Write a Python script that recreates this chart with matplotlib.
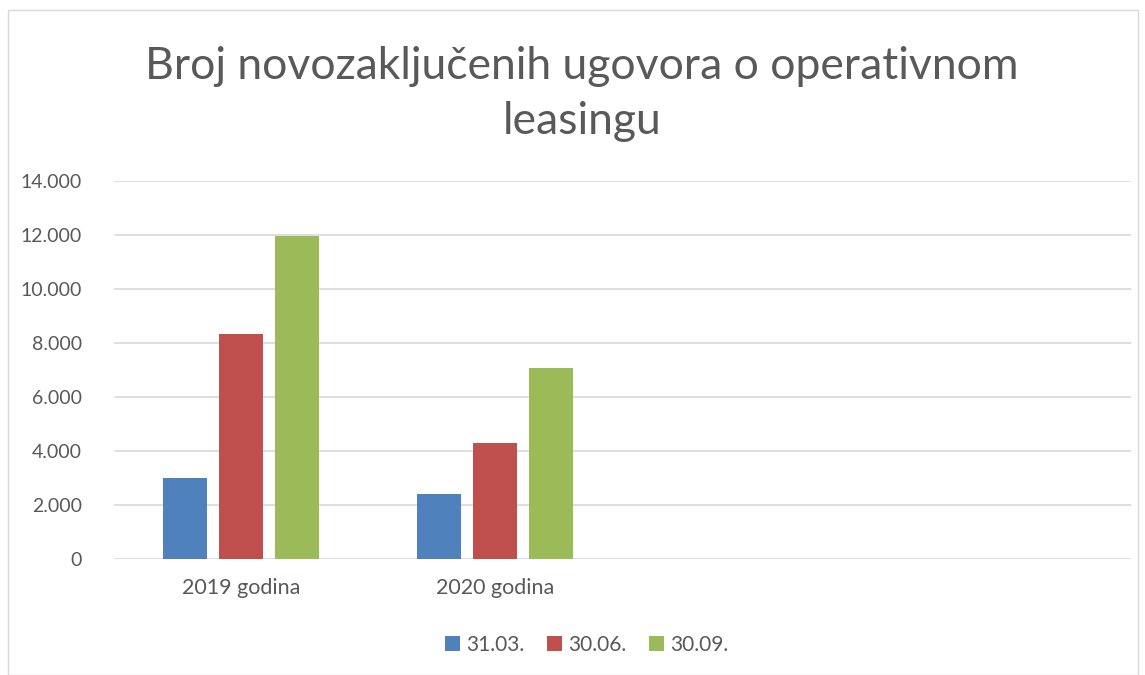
import numpy as np
import matplotlib.pyplot as plt
from matplotlib.patches import Rectangle

plt.rcParams['font.family'] = ['Lato', 'DejaVu Sans']

categories = ['2019 godina', '2020 godina', '', '']
series = ['31.03.', '30.06.', '30.09.']
vals_0331 = [3010, 2410]
vals_0630 = [8320, 4280]
vals_0930 = [11950, 7080]
colors = ['#4F81BD', '#C0504D', '#9BBB59']
text_col = '#595959'

fig = plt.figure(figsize=(11.45, 6.75), dpi=100)
ax = fig.add_axes([114/1145, 1-559/675, (1131-114)/1145, (559-180.7)/675])

x = np.arange(2)
w = 44/254
step = 56/254
for i, (name, v) in enumerate(zip(series, [vals_0331, vals_0630, vals_0930])):
    ax.bar(x + (i-1)*step, v, width=w, color=colors[i], label=name, zorder=3)

ax.set_xlim(-0.5, 3.5)
ax.set_ylim(0, 14000)
ax.set_xticks(np.arange(len(categories)))
ax.set_xticklabels(categories)
ax.set_yticks(np.arange(0, 14001, 2000))
ax.set_yticklabels([f'{int(t):,}'.replace(',', '.') for t in np.arange(0, 14001, 2000)])
ax.grid(axis='y', color='#D9D9D9', linewidth=1.2, zorder=0)
for s in ax.spines.values():
    s.set_visible(False)
ax.tick_params(length=0, colors=text_col)
ax.tick_params(axis='x', pad=14, labelsize=15.5)
ax.tick_params(axis='y', pad=23, labelsize=14)

fig.text(582/1145, 1-94/675, 'Broj novozaključenih ugovora o operativnom\nleasingu',
         ha='center', va='center', fontsize=32, color=text_col, linespacing=1.42)

fig.legend(loc='center', bbox_to_anchor=(587/1145, 1-645/675), ncol=3, frameon=False,
           fontsize=15, labelcolor=text_col, handlelength=0.7, handleheight=0.7,
           columnspacing=1.1, handletextpad=0.3)

fig.patches.append(Rectangle((8/1145, 0), (1138-8)/1145, 1-10/675, transform=fig.transFigure,
                             fill=False, edgecolor='#D9D9D9', linewidth=1))

plt.savefig('out.png')
